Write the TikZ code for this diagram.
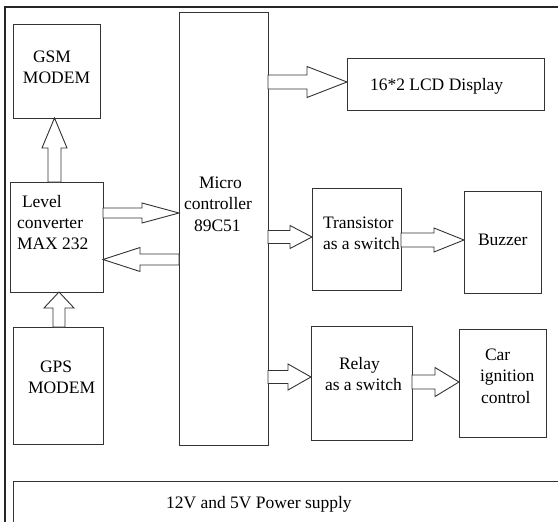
\documentclass[tikz,border=0pt]{standalone}
\usepackage{fontspec}
\setmainfont{Liberation Serif}
\usetikzlibrary{calc}
\newcommand\lines[1]{\begin{tabular}[t]{@{}l@{}}#1\end{tabular}}
% horizontal block arrow: from, to, centre y (image px), shaft half, head half, head length
\newcommand\harr[6]{%
 \draw[barrow] let \p1=(#1), \p2=(#2), \n1={sign(\x2-\x1)*(#6)} in
 (\x1,{-(#3+#4)*1pt}) -- ({\x2-\n1*1pt},{-(#3+#4)*1pt}) -- ({\x2-\n1*1pt},{-(#3+#5)*1pt})
 -- (\x2,{-(#3)*1pt}) -- ({\x2-\n1*1pt},{-(#3-#5)*1pt}) -- ({\x2-\n1*1pt},{-(#3-#4)*1pt})
 -- (\x1,{-(#3-#4)*1pt}) -- cycle;}
% vertical block arrow: from, to, centre x, shaft half, head half, head length
\newcommand\varr[6]{%
 \draw[barrow] let \p1=(#1), \p2=(#2), \n1={sign(\y2-\y1)*(#6)} in
 ({(#3+#4)*1pt},\y1) -- ({(#3+#4)*1pt},{\y2-\n1*1pt}) -- ({(#3+#5)*1pt},{\y2-\n1*1pt})
 -- ({(#3)*1pt},\y2) -- ({(#3-#5)*1pt},{\y2-\n1*1pt}) -- ({(#3-#4)*1pt},{\y2-\n1*1pt})
 -- ({(#3-#4)*1pt},\y1) -- cycle;}
\begin{document}
\begin{tikzpicture}[x=1pt,y=-1pt,
  box/.style={draw=black!80, line width=0.9pt, rectangle, inner sep=0pt, outer sep=0pt},
  txt/.style={inner sep=0pt, outer sep=0pt, text=black, font=\fontsize{17.5}{21.5}\selectfont},
  barrow/.style={draw=black!80, line width=0.9pt, fill=white, line join=miter},
  frame/.style={draw=black!85, line width=1.4pt}]
\useasboundingbox (0,0) rectangle (558,522);
% outer frame and power supply strip
\draw[frame] (558,7) -- (5,7) -- (5,522);
\draw[box] (13,522) -- (13,481) -- (558,481);
\node[txt, anchor=base west] (pwr) at (166,508) {12V and 5V Power supply};
% boxes
\node[box, minimum width=87, minimum height=94] (gsm) at (56.5,71) {};
\node[box, minimum width=93, minimum height=110] (lvl) at (56.5,237) {};
\node[box, minimum width=90, minimum height=117] (gps) at (58,385.5) {};
\node[box, minimum width=89, minimum height=433] (mcu) at (223.5,228.5) {};
\node[box, minimum width=197, minimum height=52] (lcd) at (445.5,84) {};
\node[box, minimum width=89, minimum height=102] (tr) at (356.5,239) {};
\node[box, minimum width=77, minimum height=102] (buz) at (502.5,242) {};
\node[box, minimum width=101, minimum height=114] (rel) at (361.5,383) {};
\node[box, minimum width=87, minimum height=108] (car) at (502.5,383) {};
% texts
\node[txt, anchor=base west] (gsmt) at (23,62) {\lines{\hspace*{10pt}GSM\\MODEM}};
\node[txt, anchor=base west] (lvlt) at (17,207) {\lines{\hspace*{5pt}Level\\converter\\MAX 232}};
\node[txt, anchor=base west] (gpst) at (28,372) {\lines{\hspace*{12pt}GPS\\MODEM}};
\node[txt, anchor=base west] (mcut) at (184,188) {\lines{\hspace*{15pt}Micro\\controller\\\hspace*{10pt}89C51}};
\node[txt, anchor=base west] (lcdt) at (370,90) {16*2 LCD Display};
\node[txt, anchor=base west] (trt) at (323,228) {\lines{Transistor\\as a switch}};
\node[txt, anchor=base west] (buzt) at (478,245) {Buzzer};
\node[txt, anchor=base west] (relt) at (325,369) {\lines{\hspace*{14pt}Relay\\as a switch}};
\node[txt, anchor=base west] (cart) at (480,360) {\lines{\hspace*{5pt}Car\\ignition\\\hspace*{1pt}control}};
% block arrows
\varr{lvl.north}{gsm.south}{54.5}{6.5}{12.5}{30}
\varr{gps.north}{lvl.south}{59}{6}{15}{16}
\harr{lvl.east}{mcu.west}{213}{5}{10}{37}
\harr{mcu.west}{lvl.east}{259.5}{5.5}{12}{37}
\harr{mcu.east}{lcd.west}{82}{7}{15.5}{40}
\harr{mcu.east}{tr.west}{237}{6.5}{11.5}{22}
\harr{tr.east}{buz.west}{240}{7}{12}{30}
\harr{mcu.east}{rel.west}{377}{6.5}{13}{23}
\harr{rel.east}{car.west}{382}{7}{14.5}{24}
\end{tikzpicture}
\end{document}
